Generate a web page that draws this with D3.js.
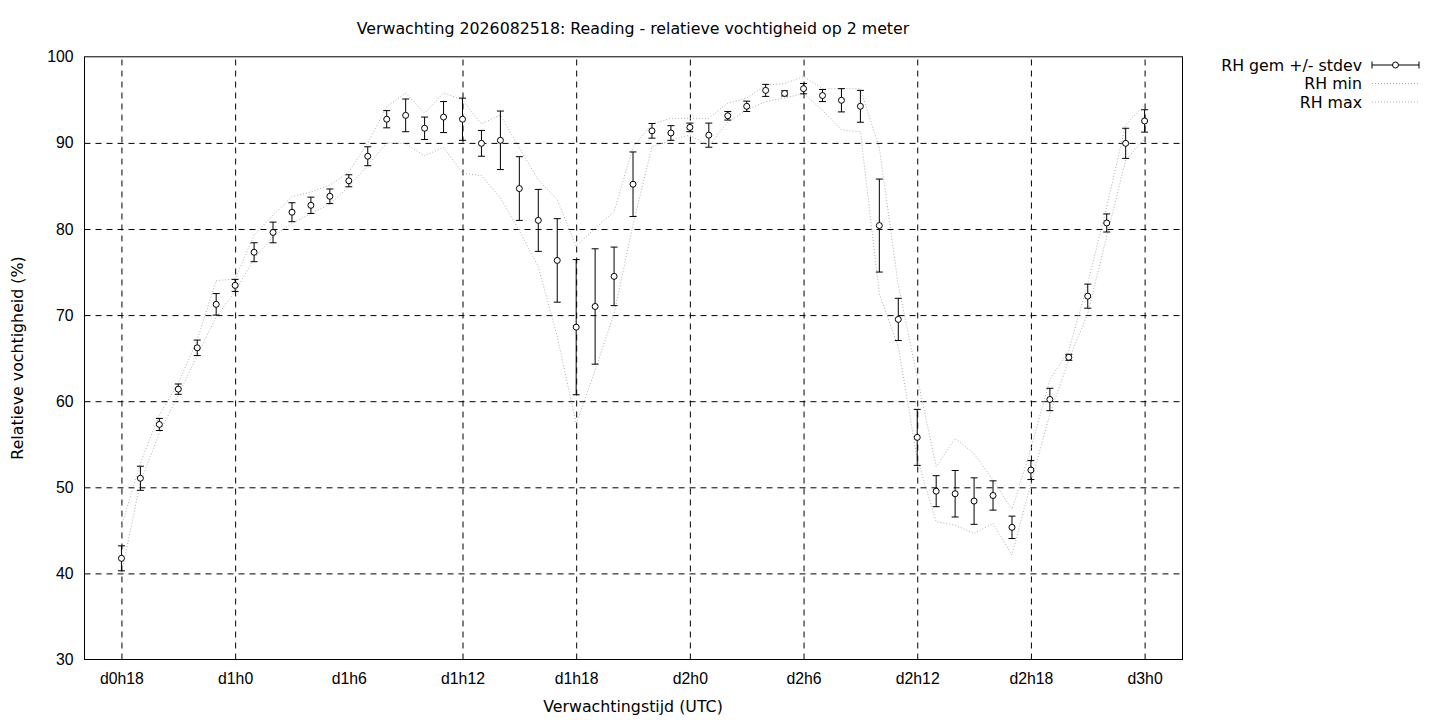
<!DOCTYPE html>
<html lang="nl">
<head>
<meta charset="UTF-8">
<title>Verwachting 2026082518: Reading - relatieve vochtigheid op 2 meter</title>
<script src="https://cdn.jsdelivr.net/npm/d3@7"></script>
<style>
    body { margin: 0; background: #fff; }
    svg { font-family: "DejaVu Sans", sans-serif; font-size: 15.8px; }
    .grid line { stroke: #000; stroke-width: 1; stroke-dasharray: 6,5; }
    .grid path { display: none; }
    .minmax { fill: none; stroke: #b0b0b0; stroke-width: 1; stroke-dasharray: 1,2; }
    .bar { stroke: #000; stroke-width: 1; }
    .dot { fill: #fff; stroke: #000; stroke-width: 1; }
</style>
</head>
<body>
<svg width="1440" height="720"></svg>
<script>
// forecast hours since d0h0
const hours = [18, 19, 20, 21, 22, 23, 24, 25, 26, 27, 28, 29, 30, 31, 32, 33, 34, 35, 36,
               37, 38, 39, 40, 41, 42, 43, 44, 45, 46, 47, 48, 49, 50, 51, 52, 53, 54, 55,
               56, 57, 58, 59, 60, 61, 62, 63, 64, 65, 66, 67, 68, 69, 70, 71, 72];

const rhMean = [41.75, 51.05, 57.3, 61.4, 66.2, 71.25, 73.45, 77.3, 79.6, 81.95, 82.75, 83.8, 85.6,
                88.45, 92.75, 93.2, 91.7, 93.0, 92.75, 89.95, 90.3, 84.7, 81.0, 76.35, 68.6, 71.0,
                74.5, 85.2, 91.4, 91.15, 91.8, 90.9, 93.15, 94.25, 96.1, 95.75, 96.3, 95.5, 94.95,
                94.25, 80.4, 69.5, 55.8, 49.55, 49.25, 48.4, 49.05, 45.35, 52.0, 60.2, 65.1, 72.2,
                80.7, 89.95, 92.55];

const rhStdev = [1.45, 1.4, 0.7, 0.6, 0.9, 1.25, 0.7, 1.1, 1.2, 1.1, 0.95, 0.85, 0.7,
                 1.1, 1.0, 1.9, 1.3, 1.8, 2.45, 1.5, 3.4, 3.7, 3.6, 4.85, 7.85, 6.7,
                 3.4, 3.75, 0.85, 0.85, 0.5, 1.4, 0.5, 0.6, 0.7, 0.3, 0.6, 0.7, 1.35,
                 1.85, 5.4, 2.45, 3.25, 1.8, 2.7, 2.7, 1.7, 1.3, 1.1, 1.3, 0.35, 1.4,
                 1.05, 1.75, 1.3];

const rhMin = [40.0, 50.6, 56.3, 60.7, 65.3, 69.8, 72.7, 76.6, 79.1, 80.65, 81.8, 82.9, 84.9,
               87.4, 90.0, 89.9, 88.5, 89.5, 86.5, 86.2, 83.6, 79.8, 75.6, 67.5, 57.4, 63.6,
               70.2, 80.5, 89.55, 90.35, 90.9, 89.65, 92.45, 93.8, 94.8, 95.2, 95.75, 93.8, 91.5,
               91.3, 72.5, 66.3, 53.3, 46.0, 45.6, 44.65, 45.8, 42.15, 50.5, 58.5, 64.8, 70.2,
               79.1, 88.0, 90.5];

const rhMax = [45.5, 52.8, 58.4, 62.1, 67.1, 74.0, 74.2, 79.3, 81.6, 83.75, 84.3, 85.1, 86.6,
               90.0, 94.2, 95.8, 93.45, 95.8, 95.0, 92.2, 93.25, 89.4, 85.7, 83.4, 78.0, 80.1,
               82.0, 89.5, 92.2, 92.85, 92.85, 92.85, 94.6, 95.2, 96.7, 96.9, 97.7, 96.3, 96.3,
               96.3, 89.4, 73.5, 62.8, 52.4, 55.7, 53.9, 50.85, 47.4, 54.5, 62.5, 65.9, 73.7,
               82.6, 92.1, 94.4];

const xTicks = [18, 24, 30, 36, 42, 48, 54, 60, 66, 72];
const yTicks = [30, 40, 50, 60, 70, 80, 90, 100];

const titleText = "Verwachting 2026082518: Reading - relatieve vochtigheid op 2 meter";
const legendLabels = ["RH gem +/- stdev", "RH min", "RH max"];

const margin = { left: 84.5, right: 1182.5, top: 56.8, bottom: 659.5 };
const svg = d3.select("svg");

const x = d3.scaleLinear().domain([16.05, 74]).range([margin.left, margin.right]);
const y = d3.scaleLinear().domain([30, 100]).range([margin.bottom, margin.top]);

const tickLabel = h => "d" + Math.floor(h / 24) + "h" + (h % 24);

// grid + tick labels
svg.append("g")
    .attr("class", "grid")
    .attr("transform", `translate(0,${margin.bottom})`)
    .call(d3.axisBottom(x).tickValues(xTicks).tickFormat(tickLabel)
        .tickSizeInner(-(margin.bottom - margin.top)).tickSizeOuter(0).tickPadding(13))
    .call(g => g.selectAll("text").attr("fill", "#000").style("font-size", "15.8px"));

svg.append("g")
    .attr("class", "grid")
    .attr("transform", `translate(${margin.left},0)`)
    .call(d3.axisLeft(y).tickValues(yTicks)
        .tickSizeInner(-(margin.right - margin.left)).tickSizeOuter(0).tickPadding(11))
    .call(g => g.selectAll("text").attr("fill", "#000").style("font-size", "15.8px"));

// drop grid lines lying on the border
svg.selectAll(".grid .tick line").filter(d => d === 30 || d === 100).remove();

// border
svg.append("rect")
    .attr("x", margin.left).attr("y", margin.top)
    .attr("width", margin.right - margin.left)
    .attr("height", margin.bottom - margin.top)
    .attr("fill", "none").attr("stroke", "#000").attr("stroke-width", 1);

const rows = hours.map((h, i) => ({
    h: h, mean: rhMean[i], sd: rhStdev[i], min: rhMin[i], max: rhMax[i]
}));

const line = key => d3.line().x(d => x(d.h)).y(d => y(d[key]));

svg.append("path").datum(rows).attr("class", "minmax").attr("d", line("min"));
svg.append("path").datum(rows).attr("class", "minmax").attr("d", line("max"));

// error bars
const capW = 3.5;
const eb = svg.append("g").selectAll("g").data(rows).join("g");
eb.append("line").attr("class", "bar")
    .attr("x1", d => x(d.h)).attr("x2", d => x(d.h))
    .attr("y1", d => y(d.mean - d.sd)).attr("y2", d => y(d.mean + d.sd));
eb.append("line").attr("class", "bar")
    .attr("x1", d => x(d.h) - capW).attr("x2", d => x(d.h) + capW)
    .attr("y1", d => y(d.mean + d.sd)).attr("y2", d => y(d.mean + d.sd));
eb.append("line").attr("class", "bar")
    .attr("x1", d => x(d.h) - capW).attr("x2", d => x(d.h) + capW)
    .attr("y1", d => y(d.mean - d.sd)).attr("y2", d => y(d.mean - d.sd));
eb.append("circle").attr("class", "dot")
    .attr("cx", d => x(d.h)).attr("cy", d => y(d.mean)).attr("r", 3);

// title and axis labels
svg.append("text")
    .attr("x", 633).attr("y", 34)
    .attr("text-anchor", "middle")
    .text(titleText);

svg.append("text")
    .attr("x", 633).attr("y", 712)
    .attr("text-anchor", "middle")
    .text("Verwachtingstijd (UTC)");

svg.append("text")
    .attr("transform", "translate(23,358) rotate(-90)")
    .attr("text-anchor", "middle")
    .text("Relatieve vochtigheid (%)");

// legend
const legend = svg.append("g").attr("transform", "translate(1362,65)");
legendLabels.forEach((lab, i) => {
    const ly = i * 18.5;
    legend.append("text")
        .attr("x", 0).attr("y", ly + 5.5)
        .attr("text-anchor", "end")
        .text(lab);
    if (i === 0) {
        legend.append("line").attr("class", "bar")
            .attr("x1", 10).attr("x2", 57).attr("y1", ly).attr("y2", ly);
        legend.append("line").attr("class", "bar")
            .attr("x1", 10).attr("x2", 10).attr("y1", ly - capW).attr("y2", ly + capW);
        legend.append("line").attr("class", "bar")
            .attr("x1", 57).attr("x2", 57).attr("y1", ly - capW).attr("y2", ly + capW);
        legend.append("circle").attr("class", "dot")
            .attr("cx", 33.5).attr("cy", ly).attr("r", 3);
    } else {
        legend.append("line").attr("class", "minmax")
            .attr("x1", 10).attr("x2", 57).attr("y1", ly).attr("y2", ly);
    }
});
</script>
</body>
</html>
